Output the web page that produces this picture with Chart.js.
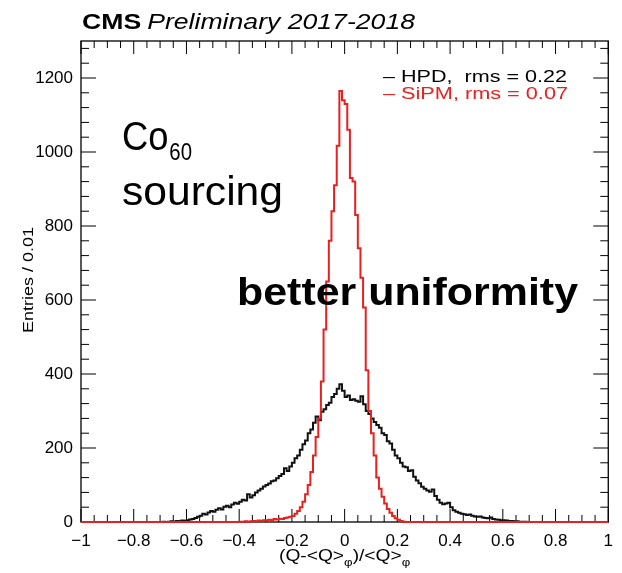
<!DOCTYPE html>
<html>
<head>
<meta charset="utf-8">
<script src="https://cdn.jsdelivr.net/npm/chart.js@4.4.1/dist/chart.umd.min.js"></script>
<style>
  html, body { margin: 0; padding: 0; background: #ffffff; }
  #wrap { width: 622px; height: 573px; position: relative; }
</style>
</head>
<body>
<div id="wrap"><canvas id="c" width="622" height="573"></canvas></div>
<script>
// ---- histogram binning (x axis) ----
const xMin = -1.0;
const xMax = 1.0;
const binWidth = 0.01;

// ---- axis tick labels ----
const xTickLabels = [-1, -0.8, -0.6, -0.4, -0.2, 0, 0.2, 0.4, 0.6, 0.8, 1];
const yTickLabels = [0, 200, 400, 600, 800, 1000, 1200];

// ---- HPD series: bins starting at hpdFirstBin (all other bins 0) ----
const hpdFirstBin = -0.70;
const hpdValues = [
  0, 1, 0, 1, 2, 1, 3, 2, 4, 3,
  5, 7, 8, 11, 14, 17, 22, 20, 26, 30,
  28, 33, 37, 34, 41, 44, 40, 47, 52, 49,
  55, 60, 58, 75, 66, 72, 80, 85, 90, 96,
  100, 104, 110, 112, 118, 124, 130, 145, 138, 150,
  160, 172, 180, 195, 210, 220, 240, 250, 268, 285,
  275, 298, 305, 316, 322, 338, 346, 360, 372, 355,
  338, 342, 330, 332, 328, 325, 340, 318, 300, 292,
  280, 270, 262, 255, 240, 235, 218, 212, 195, 180,
  172, 160, 150, 148, 138, 140, 122, 112, 105, 95,
  90, 85, 82, 88, 70, 60, 52, 48, 50, 52,
  40, 32, 28, 25, 22, 21, 19, 20, 17, 15,
  14, 15, 12, 11, 10, 12, 8, 7, 6, 5,
  5, 4, 3, 3, 2, 2, 1, 1, 1, 0,
  0
];

// ---- SiPM series: bins starting at sipmFirstBin (all other bins 0) ----
const sipmFirstBin = -0.40;
const sipmValues = [
  1, 0, 2, 1, 2,
  3, 2, 4, 3, 5, 4, 6, 5, 8, 7,
  9, 8, 11, 12, 14, 16, 22, 30, 40, 55,
  75, 100, 135, 180, 230, 280, 380, 520, 650, 760,
  840, 910, 1017, 1165, 1140, 1130, 1060, 930, 920, 830,
  740, 660, 580, 410, 300, 240, 180, 120, 90, 68,
  50, 35, 25, 16, 10, 6, 3, 1, 0
];

const yMax = 1300;

function buildSteps(first, values) {
  const nBins = Math.round((xMax - xMin) / binWidth);
  const arr = new Array(nBins).fill(0);
  const off = Math.round((first - xMin) / binWidth);
  values.forEach((v, i) => { if (off + i >= 0 && off + i < nBins) arr[off + i] = v; });
  const pts = arr.map((v, i) => ({ x: xMin + i * binWidth, y: v }));
  pts.push({ x: xMax, y: arr[nBins - 1] });
  return pts;
}

const FONT = '"Liberation Sans", Arial, Helvetica, sans-serif';

function fmt(v) {
  const r = Math.round(v * 10) / 10;
  if (r === 0) return '0';
  return (r < 0 ? '\u2212' : '') + String(Math.abs(r));
}

// draw text stretched horizontally to a target width
function drawFit(ctx, parts, x, y, targetW) {
  let total = 0;
  parts.forEach(p => { ctx.font = p.font; p.w = ctx.measureText(p.text).width; total += p.w + (p.gap || 0); });
  const s = targetW ? targetW / total : 1;
  let cx = x;
  parts.forEach(p => {
    ctx.save();
    ctx.font = p.font;
    ctx.fillStyle = p.color || '#000';
    ctx.textBaseline = 'alphabetic';
    ctx.translate(cx, y + (p.dy || 0));
    ctx.scale(s, 1);
    ctx.fillText(p.text, 0, 0);
    ctx.restore();
    cx += (p.w + (p.gap || 0)) * s;
  });
}

const framePlugin = {
  id: 'rootFrame',
  beforeDatasetsDraw(chart) {
    const { ctx, chartArea: a, scales: { x, y } } = chart;
    ctx.save();
    ctx.strokeStyle = '#000';
    ctx.lineWidth = 1.3;
    ctx.strokeRect(a.left, a.top, a.right - a.left, a.bottom - a.top);
    ctx.lineWidth = 1;
    ctx.beginPath();
    // x ticks (major every 0.2, minor every 0.05), inward on bottom & top
    for (let i = 0; i <= 40; i++) {
      const v = xMin + i * 0.05;
      const px = x.getPixelForValue(v);
      const len = (i % 4 === 0) ? 13 : 7;
      ctx.moveTo(px, a.bottom); ctx.lineTo(px, a.bottom - len);
      ctx.moveTo(px, a.top); ctx.lineTo(px, a.top + len);
    }
    // y ticks (major every 200, minor every 40), inward on left & right
    for (let v = 0; v <= yMax; v += 40) {
      const py = y.getPixelForValue(v);
      const len = (v % 200 === 0) ? 15 : 8;
      ctx.moveTo(a.left, py); ctx.lineTo(a.left + len, py);
      ctx.moveTo(a.right, py); ctx.lineTo(a.right - len, py);
    }
    ctx.stroke();
    ctx.restore();
  },
  afterDatasetsDraw(chart) {
    const { ctx, chartArea: a } = chart;
    ctx.save();
    // header
    drawFit(ctx, [
      { text: 'CMS', font: 'bold 22px ' + FONT, gap: 5 },
      { text: 'Preliminary 2017-2018', font: 'italic 22px ' + FONT }
    ], 82, 29, 333);
    // legend
    drawFit(ctx, [{ text: '\u2013 HPD,  rms = 0.22', font: '16px ' + FONT, color: '#000' }], 383, 82, 184);
    drawFit(ctx, [{ text: '\u2013 SiPM, rms = 0.07', font: '16px ' + FONT, color: '#e8201f' }], 383, 99, 185);
    // annotations
    drawFit(ctx, [
      { text: 'Co', font: '41px ' + FONT, gap: 1 },
      { text: '60', font: '23px ' + FONT, dy: 10 }
    ], 122, 150, 70);
    drawFit(ctx, [{ text: 'sourcing', font: '41px ' + FONT }], 122, 205, 161);
    drawFit(ctx, [{ text: 'better uniformity', font: 'bold 38px ' + FONT }], 237, 305, 341);
    // y axis title, stretched along its direction
    ctx.fillStyle = '#000';
    ctx.save();
    ctx.translate(33, 280);
    ctx.rotate(-Math.PI / 2);
    ctx.font = '15px ' + FONT;
    const ytw = ctx.measureText('Entries / 0.01').width;
    ctx.scale(106 / ytw, 1);
    ctx.textAlign = 'center';
    ctx.textBaseline = 'alphabetic';
    ctx.fillText('Entries / 0.01', 0, 0);
    ctx.restore();
    // x title with subscripts
    const parts = [
      { t: '(Q-<Q>', f: '16px ' + FONT, dy: 0 },
      { t: '\u03c6', f: '11px ' + FONT, dy: 5 },
      { t: ')/<Q>', f: '16px ' + FONT, dy: 0 },
      { t: '\u03c6', f: '11px ' + FONT, dy: 5 }
    ];
    let tw = 0;
    parts.forEach(p => { ctx.font = p.f; p.w = ctx.measureText(p.t).width; tw += p.w; });
    const sc = 1.2;
    let cx = (a.left + a.right) / 2 - tw * sc / 2;
    parts.forEach(p => {
      ctx.save();
      ctx.font = p.f;
      ctx.translate(cx, 561 + p.dy);
      ctx.scale(sc, 1);
      ctx.fillText(p.t, 0, 0);
      ctx.restore();
      cx += p.w * sc;
    });
    ctx.restore();
  }
};

new Chart(document.getElementById('c'), {
  type: 'line',
  data: {
    datasets: [
      {
        label: 'SiPM',
        data: buildSteps(sipmFirstBin, sipmValues),
        borderColor: '#e8201f',
        borderWidth: 2,
        stepped: 'before',
        pointRadius: 0,
        fill: false,
        clip: false,
        order: 0
      },
      {
        label: 'HPD',
        data: buildSteps(hpdFirstBin, hpdValues),
        borderColor: '#111111',
        borderWidth: 2,
        stepped: 'before',
        pointRadius: 0,
        fill: false,
        clip: false,
        order: 1
      }
    ]
  },
  options: {
    responsive: false,
    animation: false,
    parsing: true,
    layout: { padding: { top: 41, right: 9, left: 0, bottom: 0 } },
    plugins: { legend: { display: false }, tooltip: { enabled: false }, title: { display: false } },
    scales: {
      x: {
        type: 'linear',
        min: xMin,
        max: xMax,
        border: { display: false },
        grid: { display: false, drawTicks: false },
        afterBuildTicks: s => { s.ticks = xTickLabels.map(v => ({ value: v })); },
        afterFit: s => { s.height = 51; },
        ticks: {
          padding: 9,
          maxRotation: 0,
          autoSkip: false,
          color: '#000',
          font: { family: FONT, size: 17 },
          callback: v => fmt(v)
        }
      },
      y: {
        type: 'linear',
        min: 0,
        max: yMax,
        border: { display: false },
        grid: { display: false, drawTicks: false },
        afterBuildTicks: s => { s.ticks = yTickLabels.map(v => ({ value: v })); },
        afterFit: s => { s.width = 81; },
        ticks: {
          padding: 8,
          color: '#000',
          font: { family: FONT, size: 17 },
          callback: v => String(v)
        }
      }
    }
  },
  plugins: [framePlugin]
});
</script>
</body>
</html>
